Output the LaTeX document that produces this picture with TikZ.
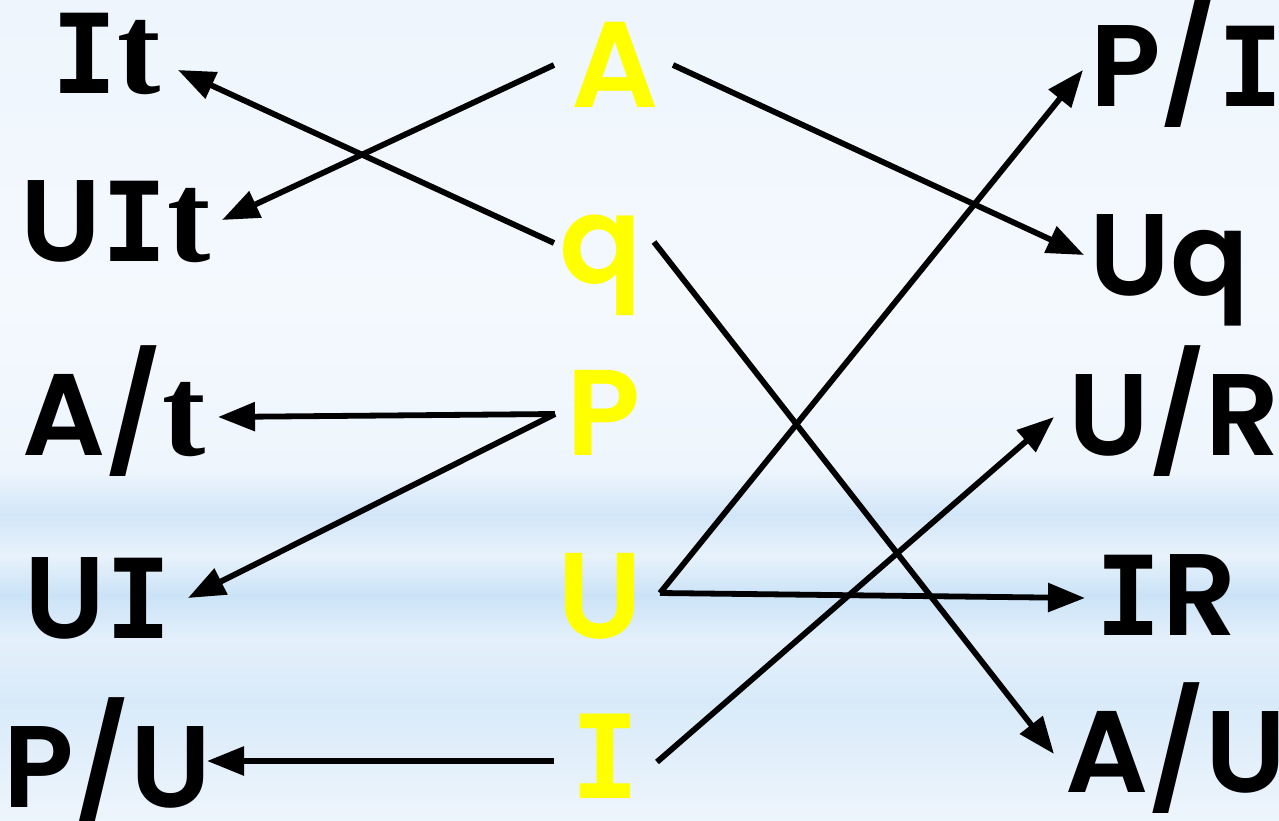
\documentclass[tikz,border=0pt]{standalone}
\usepackage{fontspec}
\setmainfont{Poppins}[BoldFont={Poppins SemiBold}]
\newfontfamily\serift{Liberation Serif}[Scale=1.12]
\newfontfamily\slabI{DejaVu Sans Mono}[Scale=0.95]
\usetikzlibrary{arrows.meta,fadings}

\definecolor{hl}{HTML}{FFFF00}
\definecolor{skyA}{HTML}{EEF5FC}
\definecolor{skyB}{HTML}{F4F9FE}
\definecolor{skyC}{HTML}{D2E6F8}
\definecolor{skyD}{HTML}{E8F2FB}
\definecolor{skyE}{HTML}{CBE3F7}
\definecolor{skyF}{HTML}{E4F0FB}
\definecolor{skyG}{HTML}{D8EAF9}

\tikzfading[name=midglow, left color=transparent!100, middle color=transparent!45, right color=transparent!100]

% serif t and slab-serif I used inside the labels
\newcommand{\st}{{\serift t}}
\newcommand{\sI}{{\slabI I}}

\begin{document}
\begin{tikzpicture}[x=1pt,y=-1pt,
  lbl/.style={anchor=base,inner sep=0pt,text height=84pt,text depth=0pt,text=black,font=\fontsize{116}{116}\selectfont\bfseries},
  key/.style={anchor=base,inner sep=0pt,text height=88pt,text depth=0pt,text=hl,font=\fontsize{122}{122}\selectfont\bfseries},
  link/.style={line width=5.8pt,draw=black},
  tip/.style={link,-{Triangle[length=37pt,width=28pt]}}
]
\useasboundingbox (0,0) rectangle (1279,821);

% sky background in horizontal bands
\shade[top color=skyA,bottom color=skyB] (0,0) rectangle (1279,300);
\shade[top color=skyB,bottom color=skyA] (0,300) rectangle (1279,470);
\shade[top color=skyA,bottom color=skyC] (0,470) rectangle (1279,515);
\shade[top color=skyC,bottom color=skyD] (0,515) rectangle (1279,555);
\shade[top color=skyD,bottom color=skyE] (0,555) rectangle (1279,595);
\shade[top color=skyE,bottom color=skyF] (0,595) rectangle (1279,640);
\shade[top color=skyF,bottom color=skyG] (0,640) rectangle (1279,700);
\shade[top color=skyG,bottom color=skyA] (0,700) rectangle (1279,821);
\fill[white,path fading=midglow] (0,0) rectangle (1279,821);

% left column
\node[lbl] (nIt)  at (106,94)  {\sI\st};
\node[lbl] (nUIt) at (116,261) {U\sI\st};
\node[lbl] (nAt)  at (114,455) {A/\st};
\node[lbl] (nUI)  at (98,638)  {U\sI};
\node[lbl] (nPU)  at (107,807) {P/U};

% middle column
\node[key] (cA) at (615,108) {A};
\node[key] (cq) at (601,283) {q};
\node[key] (cP) at (604,455) {P};
\node[key] (cU) at (600,638) {U};
\node[key] (cI) at (605,798) {\sI};

% right column
\node[lbl] (rPI) at (1187,107) {P/\sI};
\node[lbl] (rUq) at (1169,295) {Uq};
\node[lbl] (rUR) at (1174,455) {U/R};
\node[lbl] (rIR) at (1166,635) {\sI R};
\node[lbl] (rAU) at (1176,792) {A/U};

% connector ends
\coordinate (It-e)  at (178,70);
\coordinate (UIt-e) at (222,220);
\coordinate (At-e)  at (218,417);
\coordinate (UI-e)  at (188,598);
\coordinate (PU-e)  at (207,761);
\coordinate (A-w) at (554,65);
\coordinate (A-e) at (673,65);
\coordinate (q-w) at (554,243);
\coordinate (q-e) at (654,242);
\coordinate (P-w) at (555,414);
\coordinate (U-e) at (660,593);
\coordinate (I-w) at (554,761);
\coordinate (I-e) at (657,762);
\coordinate (PI-w) at (1083,70);
\coordinate (Uq-w) at (1084,255);
\coordinate (UR-w) at (1054,417);
\coordinate (IR-w) at (1085,598);
\coordinate (AU-w) at (1054,754);

% connectors
\draw[tip] (A-w) -- (UIt-e);
\draw[tip] (q-w) -- (It-e);
\draw[tip] (P-w) -- (At-e);
\draw[tip] (P-w) -- (UI-e);
\draw[tip] (I-w) -- (PU-e);
\draw[tip] (A-e) -- (Uq-w);
\draw[tip] (q-e) -- (AU-w);
\draw[tip] (U-e) -- (PI-w);
\draw[tip] (U-e) -- (IR-w);
\draw[tip] (I-e) -- (UR-w);
\end{tikzpicture}
\end{document}
